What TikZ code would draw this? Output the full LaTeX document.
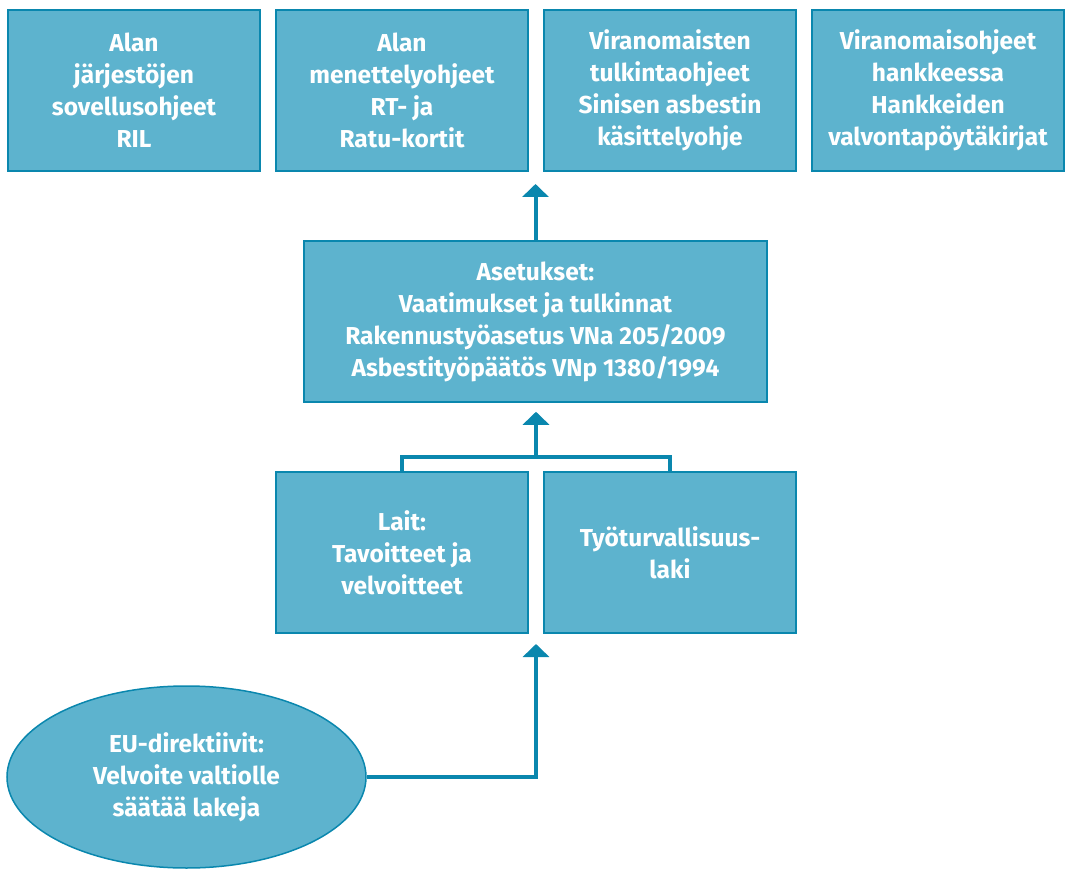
\documentclass[tikz,border=0pt]{standalone}
\usepackage{fontspec}
\setmainfont{Fira Sans}
\usetikzlibrary{arrows.meta,positioning,shapes.geometric}

\definecolor{laatikkovari}{HTML}{5DB3CE}
\definecolor{viivavari}{HTML}{0A87AE}

\begin{document}
\begin{tikzpicture}[x=1pt,y=-1pt,
  laatikko/.style={draw=viivavari, line width=1.5pt, fill=laatikkovari, text=white,
    font=\bfseries\fontsize{24.5}{32}\selectfont, align=center,
    minimum width=252pt, minimum height=161pt, inner sep=0pt},
  yhdys/.style={draw=viivavari, line width=4pt},
  nuoli/.style={yhdys, ->, >={Triangle[width=26pt,length=13pt]}}]

\useasboundingbox (0,0) rectangle (1066,869);

% Ohjeet
  \foreach \i/\x/\teksti in {1/134/{Alan\\järjestöjen\\sovellusohjeet\\RIL},
      2/402/{Alan\\menettelyohjeet\\RT- ja\\Ratu-kortit},
      3/670/{Viranomaisten\\tulkintaohjeet\\Sinisen asbestin\\käsittelyohje},
      4/938/{Viranomaisohjeet\\hankkeessa\\Hankkeiden\\valvontapöytäkirjat}}
  \node[laatikko] (ohje\i) at (\x,90.5) {\teksti};

% Asetukset
  \node[laatikko, minimum width=463pt] (asetus) at (535.5,321.5)
    {Asetukset:\\Vaatimukset ja tulkinnat\\Rakennustyöasetus VNa 205/2009\\Asbestityöpäätös VNp 1380/1994};

% Lait
  \node[laatikko] (lait) at (402,552.5) {Lait:\\Tavoitteet ja\\velvoitteet};
  \node[laatikko] (tyo) at (670,552.5) {Työturvallisuus-\\laki};

  \node[laatikko, ellipse, minimum width=359pt, minimum height=182pt] (eu) at (186.5,777)
    {EU-direktiivit:\\Velvoite valtiolle\\säätää lakeja};

% Nuolet
  \coordinate (ylaraja) at (536,172);
  \coordinate (haara) at (536,457);
  \coordinate (alaraja) at (536,634);

  \draw[nuoli, shorten >=12pt] (asetus.north) -- (asetus.north |- ylaraja);
  \draw[yhdys] (lait.north) |- (haara) -| (tyo.north);
  \draw[nuoli, shorten >=9pt] (haara) -- (haara |- asetus.south);
  \draw[nuoli, shorten >=10pt] (eu.east) -| (alaraja);
\end{tikzpicture}
\end{document}
